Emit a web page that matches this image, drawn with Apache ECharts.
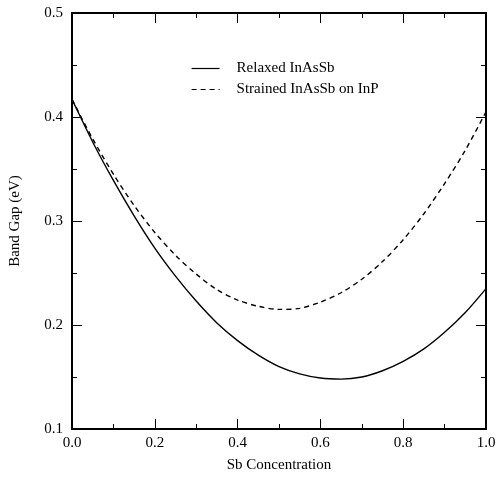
<!DOCTYPE html>
<html><head><meta charset="utf-8">
<script src="https://cdn.jsdelivr.net/npm/echarts@6/dist/echarts.min.js"></script>
<style>html,body{margin:0;padding:0;background:#fff}#c{width:501px;height:483px}</style>
</head><body><div id="c"></div>
<script>
const sbConc = [0,0.05,0.1,0.15,0.2,0.25,0.3,0.35,0.4,0.45,0.5,0.55,0.6,0.65,0.7,0.75,0.8,0.85,0.9,0.95,1.0];
const relaxed = [0.417,0.376,0.339,0.305,0.274,0.247,0.223,0.202,0.185,0.171,0.160,0.153,0.149,0.148,0.150,0.156,0.165,0.177,0.193,0.212,0.235];
const strained = [0.417,0.379,0.345,0.315,0.289,0.267,0.249,0.234,0.224,0.218,0.215,0.216,0.222,0.231,0.244,0.261,0.282,0.307,0.336,0.368,0.405];
const seriesNames = ['Relaxed InAsSb','Strained InAsSb on InP'];
const xTicks = ['0.0','0.2','0.4','0.6','0.8','1.0'];
const yTicks = ['0.1','0.2','0.3','0.4','0.5'];

const font = 'Liberation Serif';
const chart = echarts.init(document.getElementById('c'));
const axBase = (show) => ({
  axisLine:{show:true,onZero:false,lineStyle:{color:'#000',width:2}},
  axisTick:{show:true,inside:true,length:10,lineStyle:{color:'#000',width:1}},
  minorTick:{show:true,splitNumber:2,length:5,lineStyle:{color:'#000',width:1}},
  splitLine:{show:false},
  axisLabel:{show:show,color:'#000',fontFamily:font,fontSize:15}
});
chart.setOption({
  animation:false,
  backgroundColor:'#fff',
  grid:{left:70,right:15,top:13,bottom:54},
  legend:{
    orient:'vertical',left:186,top:56,itemWidth:28,itemHeight:10,itemGap:6,
    data:seriesNames,
    itemStyle:{opacity:0},
    lineStyle:{width:1.2},
    textStyle:{fontFamily:font,fontSize:15,color:'#000',padding:[0,0,0,12]}
  },
  xAxis:[
    Object.assign(axBase(true),{type:'value',min:0,max:1,interval:0.2,position:'bottom',
      name:'Sb Concentration',nameLocation:'middle',nameGap:29,
      nameTextStyle:{fontFamily:font,fontSize:15,color:'#000'},
      axisLabel:{color:'#000',fontFamily:font,fontSize:15,margin:7,
        formatter:(v)=>xTicks[Math.round(v/0.2)]}}),
    Object.assign(axBase(false),{type:'value',min:0,max:1,interval:0.2,position:'top'})
  ],
  yAxis:[
    Object.assign(axBase(true),{type:'value',min:0.1,max:0.5,interval:0.1,position:'left',
      name:'Band Gap (eV)',nameLocation:'middle',nameGap:49,
      nameTextStyle:{fontFamily:font,fontSize:15,color:'#000'},
      axisLabel:{color:'#000',fontFamily:font,fontSize:15,margin:9,
        formatter:(v)=>yTicks[Math.round((v-0.1)/0.1)]}}),
    Object.assign(axBase(false),{type:'value',min:0.1,max:0.5,interval:0.1,position:'right'})
  ],
  series:[
    {name:seriesNames[0],type:'line',smooth:0.3,symbol:'none',
     data:sbConc.map((x,i)=>[x,relaxed[i]]),
     lineStyle:{color:'#000',width:1.4,type:'solid'},itemStyle:{color:'#000'}},
    {name:seriesNames[1],type:'line',smooth:0.3,symbol:'none',
     data:sbConc.map((x,i)=>[x,strained[i]]),
     lineStyle:{color:'#000',width:1.4,type:[5,4]},itemStyle:{color:'#000'}}
  ]
});
</script></body></html>
